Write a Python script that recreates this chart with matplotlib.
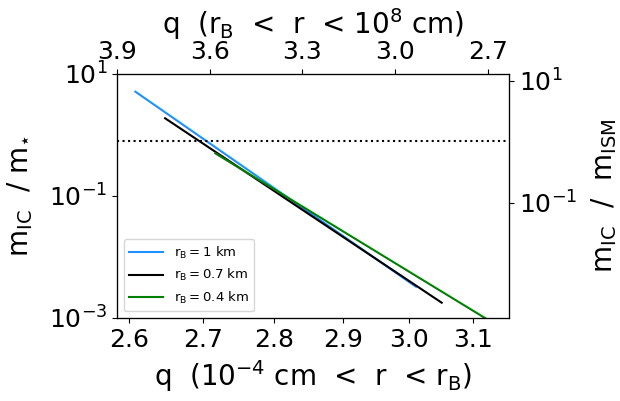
import numpy as np
import matplotlib
matplotlib.use('Agg')
from matplotlib import pyplot as plt
from matplotlib.ticker import FixedLocator, NullLocator, FixedFormatter

plt.rcParams['mathtext.default'] = 'regular'

# endpoints (q, m_IC/m_star)
q_1km = [2.608, 3.011]
m_1km = [5.13, 3.26e-3]
q_07km = [2.648, 3.051]
m_07km = [1.88, 1.78e-3]
q_04km = [2.717, 3.120]
m_04km = [0.50, 9.9e-4]
m_ism_line = 0.79  # m_IC / m_ISM = 1

xticks_bot = [2.6, 2.7, 2.8, 2.9, 3.0, 3.1]
xticks_top = [3.9, 3.6, 3.3, 3.0, 2.7]

fig = plt.figure(figsize=(6.2, 4.01), dpi=100)
ax = fig.add_axes([0.1887, 0.207, 0.6323, 0.6085])

ax.plot(q_1km, m_1km, color='dodgerblue', lw=1.5, label=r'$r_{B} = 1$ km')
ax.plot(q_07km, m_07km, color='black', lw=1.5, label=r'$r_{B} = 0.7$ km')
ax.plot(q_04km, m_04km, color='green', lw=1.5, label=r'$r_{B} = 0.4$ km')
ax.axhline(m_ism_line, color='black', ls=':', lw=1.5)

ax.set_xscale('log')
ax.set_yscale('log')
ax.set_xlim(2.5836, 3.158)
ax.set_ylim(1e-3, 1e1)
ax.xaxis.set_major_locator(FixedLocator(xticks_bot))
ax.xaxis.set_major_formatter(FixedFormatter(['%.1f' % t for t in xticks_bot]))
ax.xaxis.set_minor_locator(NullLocator())
ax.yaxis.set_major_locator(FixedLocator([1e-3, 1e-1, 1e1]))
ax.yaxis.set_minor_locator(NullLocator())
ax.tick_params(labelsize=18)
ax.set_xlabel(r'q  (10$^{-4}$ cm  <  r  < r$_{B}$)', fontsize=20)
ax.xaxis.set_label_coords(0.5, -0.165)
ax.set_ylabel(r'm$_{IC}$  / m$_{\star}$', fontsize=20, labelpad=10)
ax.legend(loc='lower left', fontsize=9.5, handlelength=2.6)

ax2 = ax.twinx()
ax2.set_yscale('log')
ax2.set_ylim(10**-2.89, 10**1.11)
ax2.yaxis.set_major_locator(FixedLocator([1e-1, 1e1]))
ax2.yaxis.set_minor_locator(NullLocator())
ax2.tick_params(labelsize=18)
ax2.set_ylabel(r'm$_{IC}$  /  m$_{ISM}$', fontsize=20, labelpad=9)

ax3 = ax.twiny()
ax3.set_xlim(3.9, 2.632)
ax3.xaxis.set_major_locator(FixedLocator(xticks_top))
ax3.xaxis.set_major_formatter(FixedFormatter(['%.1f' % t for t in xticks_top]))
ax3.tick_params(labelsize=18)
ax3.set_xlabel(r'q  (r$_{B}$  <  r  < 10$^{8}$ cm)', fontsize=20)
ax3.xaxis.set_label_coords(0.5, 1.165)

fig.savefig('out.png', dpi=100)
